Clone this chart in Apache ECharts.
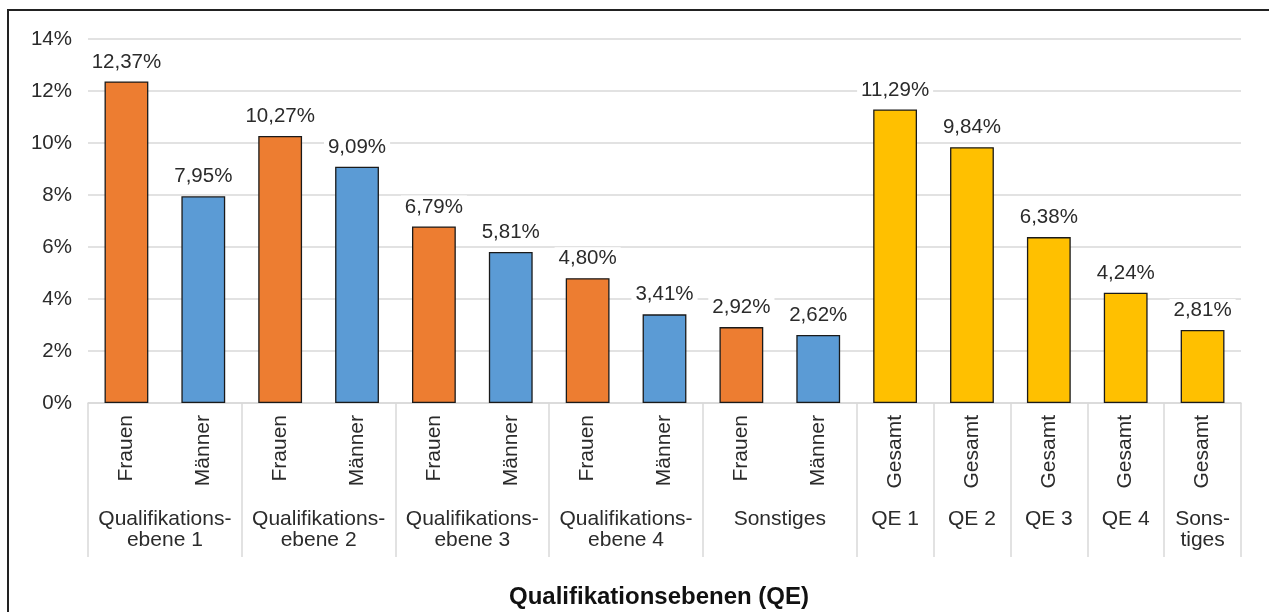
<!DOCTYPE html>
<html>
<head>
<meta charset="utf-8">
<script src="https://cdn.jsdelivr.net/npm/echarts@6/dist/echarts.min.js"></script>
<style>
html,body{margin:0;padding:0;width:1269px;height:612px;overflow:hidden;background:#fff;}
#frame{position:absolute;left:7px;top:9px;width:1400px;height:800px;border-left:2px solid #222;border-top:2px solid #222;}
#chart{position:absolute;left:0;top:0;width:1269px;height:612px;}
</style>
</head>
<body>
<div id="frame"></div>
<div id="chart"></div>
<script>
// ---- data ----
const categories = ['Frauen','Männer','Frauen','Männer','Frauen','Männer','Frauen','Männer','Frauen','Männer','Gesamt','Gesamt','Gesamt','Gesamt','Gesamt'];
const values = [12.37, 7.95, 10.27, 9.09, 6.79, 5.81, 4.80, 3.41, 2.92, 2.62, 11.29, 9.84, 6.38, 4.24, 2.81];
const groupLabels = ['Qualifikations-\nebene 1','Qualifikations-\nebene 2','Qualifikations-\nebene 3','Qualifikations-\nebene 4','Sonstiges','QE 1','QE 2','QE 3','QE 4','Sons-\ntiges'];
const groupSizes = [2, 2, 2, 2, 2, 1, 1, 1, 1, 1];
const yMin = 0, yMax = 14, yStep = 2;
const axisTitle = 'Qualifikationsebenen (QE)';
const colorByCategory = { 'Frauen': '#ED7D31', 'Männer': '#5B9BD5', 'Gesamt': '#FFC000' };

// ---- derived ----
const boundaries = [0];
const centerLabel = {};
groupSizes.forEach((s, i) => {
  const start = boundaries[boundaries.length - 1];
  centerLabel[(start + s / 2).toFixed(1)] = groupLabels[i];
  boundaries.push(start + s);
});

const FONT = '"Liberation Sans", Arial, sans-serif';
const TXT = '#2b2b2b';
const GRID = '#d9d9d9';

const chart = echarts.init(document.getElementById('chart'), null, { renderer: 'canvas' });
chart.setOption({
  animation: false,
  backgroundColor: 'transparent',
  textStyle: { fontFamily: FONT },
  title: {
    text: axisTitle,
    left: 654,
    top: 580,
    textAlign: 'center',
    textStyle: { fontFamily: FONT, fontSize: 24, fontWeight: 'bold', color: '#111' }
  },
  grid: { left: 88, right: 28, top: 39, bottom: 209, containLabel: false },
  xAxis: [
    {
      type: 'category',
      data: categories,
      boundaryGap: true,
      axisLine: { show: true, lineStyle: { color: GRID, width: 1.5 } },
      axisTick: {
        show: true,
        length: 154,
        interval: (idx) => boundaries.indexOf(idx) !== -1,
        lineStyle: { color: GRID, width: 1.5 }
      },
      axisLabel: {
        interval: 0,
        rotate: 90,
        margin: 12,
        fontSize: 21,
        color: TXT,
        fontFamily: FONT
      }
    },
    {
      type: 'value',
      min: 0,
      max: boundaries[boundaries.length - 1],
      interval: 0.5,
      position: 'bottom',
      axisLine: { show: false },
      axisTick: { show: false },
      splitLine: { show: false },
      axisLabel: {
        margin: 106,
        fontSize: 21,
        lineHeight: 21,
        color: TXT,
        fontFamily: FONT,
        align: 'center',
        verticalAlign: 'top',
        formatter: (v) => centerLabel[Number(v).toFixed(1)] || ''
      }
    }
  ],
  yAxis: {
    type: 'value',
    min: yMin,
    max: yMax,
    interval: yStep,
    axisLine: { show: false },
    axisTick: { show: false },
    splitLine: { show: true, lineStyle: { color: GRID, width: 1.5 } },
    axisLabel: {
      margin: 16,
      fontSize: 20.5,
      color: TXT,
      fontFamily: FONT,
      formatter: (v) => v + '%'
    }
  },
  series: [{
    type: 'bar',
    xAxisIndex: 0,
    barCategoryGap: '43%',
    data: values.map((v, i) => ({
      value: v,
      itemStyle: { color: colorByCategory[categories[i]], borderColor: '#1a1a1a', borderWidth: 1.3 }
    })),
    label: {
      show: true,
      position: 'top',
      distance: 8,
      fontSize: 20.5,
      color: TXT,
      fontFamily: FONT,
      backgroundColor: '#ffffff',
      padding: [1, 4],
      formatter: (p) => p.value.toFixed(2).replace('.', ',') + '%'
    }
  }]
});
</script>
</body>
</html>
